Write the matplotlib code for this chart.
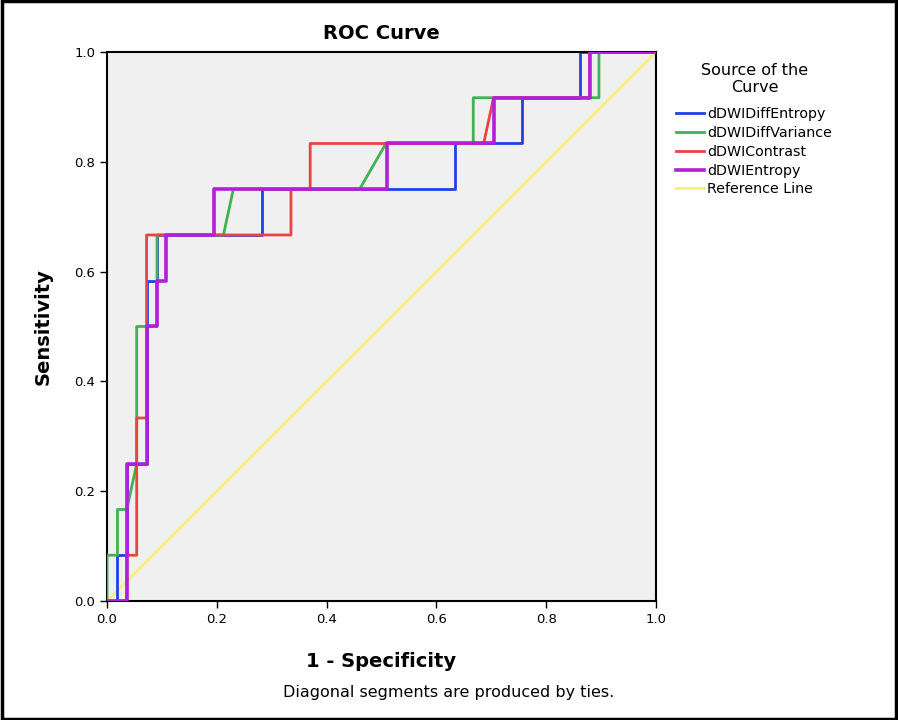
import matplotlib.pyplot as plt
import numpy as np

# ROC steps: 1 - specificity and true positives (out of 12 positives)
n_pos = 12

blue_fpr = [0, 0.019, 0.019, 0.036, 0.036, 0.072, 0.072, 0.091, 0.091, 0.282, 0.282,
            0.634, 0.634, 0.755, 0.755, 0.862, 0.862, 1.0]
blue_tp = [0, 0, 1, 1, 3, 3, 7, 7, 8, 8, 9, 9, 10, 10, 11, 11, 12, 12]

green_fpr = [0, 0, 0.019, 0.019, 0.036, 0.054, 0.054, 0.091, 0.091, 0.212, 0.230,
             0.460, 0.508, 0.667, 0.667, 0.896, 0.896, 1.0]
green_tp = [0, 1, 1, 2, 2, 3, 6, 6, 8, 8, 9, 9, 10, 10, 11, 11, 12, 12]

red_fpr = [0, 0.036, 0.036, 0.054, 0.054, 0.072, 0.072, 0.335, 0.335, 0.370, 0.370,
           0.686, 0.704, 0.879, 0.879, 1.0]
red_tp = [0, 0, 1, 1, 4, 4, 8, 8, 9, 9, 10, 10, 11, 11, 12, 12]

purple_fpr = [0, 0.036, 0.036, 0.072, 0.072, 0.091, 0.091, 0.107, 0.107, 0.194, 0.194,
              0.509, 0.509, 0.704, 0.704, 0.879, 0.879, 1.0]
purple_tp = [0, 0, 3, 3, 6, 6, 7, 7, 8, 8, 9, 9, 10, 10, 11, 11, 12, 12]

ref_x = [0, 1]
ref_y = [0, 1]

names = ["dDWIDiffEntropy", "dDWIDiffVariance", "dDWIContrast", "dDWIEntropy", "Reference Line"]
ticks = [0.0, 0.2, 0.4, 0.6, 0.8, 1.0]

fig = plt.figure(figsize=(8.98, 7.2), dpi=100)
ax = fig.add_axes([0.1192, 0.1653, 0.6114, 0.7625])
ax.set_facecolor("#f0f0f0")

ax.plot(ref_x, ref_y, color="#f6ef78", lw=2.0, label=names[4], zorder=1)
ax.plot(blue_fpr, np.array(blue_tp) / n_pos, color="#2141e6", lw=2.0, label=names[0], zorder=2)
ax.plot(green_fpr, np.array(green_tp) / n_pos, color="#3fb34f", lw=2.0, label=names[1], zorder=3)
ax.plot(red_fpr, np.array(red_tp) / n_pos, color="#ea4343", lw=2.0, label=names[2], zorder=4)
ax.plot(purple_fpr, np.array(purple_tp) / n_pos, color="#b31fd6", lw=2.6, label=names[3], zorder=5)

ax.set_xlim(0, 1)
ax.set_ylim(0, 1)
ax.set_xticks(ticks)
ax.set_yticks(ticks)
ax.set_xticklabels([f"{t:.1f}" for t in ticks])
ax.set_yticklabels([f"{t:.1f}" for t in ticks])
ax.tick_params(direction="out", length=5, width=1, labelsize=9.5, colors="black")
for s in ax.spines.values():
    s.set_linewidth(1.5)

ax.set_title("ROC Curve", fontsize=14, fontweight="bold", pad=9)
ax.set_xlabel("1 - Specificity", fontsize=14, fontweight="bold")
ax.set_ylabel("Sensitivity", fontsize=14, fontweight="bold")
ax.xaxis.set_label_coords(0.5, -0.093)
ax.yaxis.set_label_coords(-0.100, 0.5)

# legend title drawn on its own so the two lines stay centred
fig.text(755 / 898, 1 - 79 / 720, "Source of the\nCurve", ha="center", va="center",
         fontsize=11.5, linespacing=1.12, multialignment="center")

handles, labels = ax.get_legend_handles_labels()
order = [1, 2, 3, 4, 0]
ax.legend([handles[i] for i in order], [labels[i] for i in order],
          fontsize=10.3, frameon=False, loc="upper left",
          bbox_to_anchor=(676 / 898, 1 - 107 / 720), bbox_transform=fig.transFigure,
          borderpad=0, borderaxespad=0, handlelength=1.95, handletextpad=0.25,
          labelspacing=0.34)

fig.text(0.5, 0.0375, "Diagonal segments are produced by ties.", ha="center",
         va="center", fontsize=11.5)

fig.add_artist(plt.Rectangle((0.002, 0.002), 0.996, 0.996, transform=fig.transFigure,
                             fill=False, lw=2.5, edgecolor="black"))

fig.savefig("out.png", dpi=100)
